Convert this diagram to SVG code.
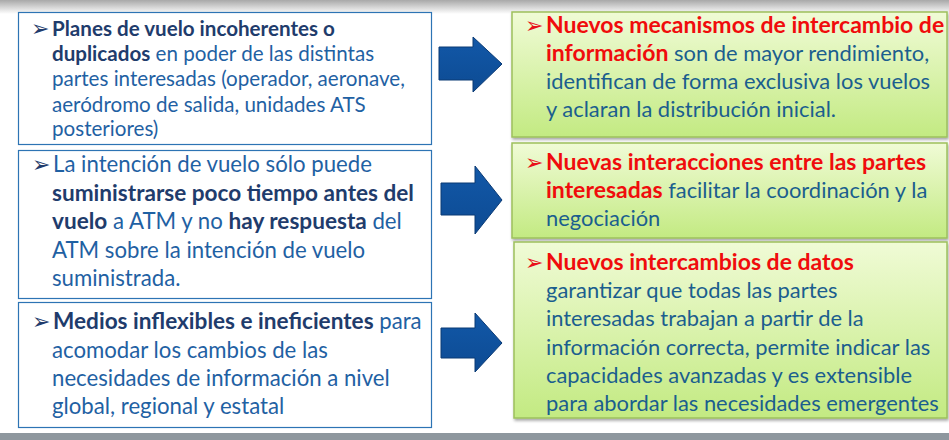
<svg xmlns="http://www.w3.org/2000/svg" width="949" height="440" viewBox="0 0 949 440">
<defs>
<linearGradient id="topband" x1="0" y1="0" x2="0" y2="1">
<stop offset="0" stop-color="#a8a8a8"/>
<stop offset="1" stop-color="#ffffff"/>
</linearGradient>
<linearGradient id="green" x1="0" y1="0" x2="0" y2="1">
<stop offset="0" stop-color="#f0fbd6"/>
<stop offset="1" stop-color="#c3ea82"/>
</linearGradient>
<linearGradient id="arrowfill" x1="0" y1="0" x2="0" y2="1">
<stop offset="0" stop-color="#1258a8"/>
<stop offset="1" stop-color="#0d4b93"/>
</linearGradient>
<filter id="shadow" x="-5%" y="-5%" width="110%" height="115%">
<feDropShadow dx="1" dy="2" stdDeviation="1.5" flood-color="#000" flood-opacity="0.35"/>
</filter>
</defs>
<style>
text { font-family: Lato, "Open Sans", "DejaVu Sans", sans-serif; }
.lbox { fill: #ffffff; stroke: #2d74b4; stroke-width: 1.2; }
.gbox { fill: url(#green); stroke: #9dc05c; stroke-width: 1.5; filter: url(#shadow); }
.arrow { fill: url(#arrowfill); stroke: #0a3a75; stroke-width: 1; }
.lt { font-size: 22.2px; fill: #1f61a3; }
.lt1 { font-size: 20.6px; fill: #1f61a3; }
.nb { font-weight: bold; fill: #1f3c6c; }
.lt .nb { font-size: 22.6px; }
.rt { font-size: 21.9px; fill: #1b5e8e; }
.rb { font-weight: bold; fill: #f00c0c; font-size: 23px; }
.bl { font-family: "DejaVu Sans", sans-serif; fill: #1f3c6c; font-size: 22px; }
.br { font-family: "DejaVu Sans", sans-serif; fill: #e8101a; font-size: 22px; }
</style>
<rect x="0" y="0" width="949" height="14" fill="url(#topband)"/>
<rect x="0" y="433" width="949" height="7" fill="#8e979e"/>

<g id="left1">
<rect class="lbox" x="18.5" y="12.5" width="413" height="132"/>
<text class="lt1"><tspan class="bl" x="31" y="36" font-size="19px">➢</tspan><tspan class="nb" x="52" y="36">Planes de vuelo incoherentes o</tspan>
<tspan class="nb" x="52" y="61">duplicados</tspan><tspan> en poder de las distintas</tspan>
<tspan x="52" y="86">partes interesadas (operador, aeronave,</tspan>
<tspan x="52" y="112">aeródromo de salida, unidades ATS</tspan>
<tspan x="52" y="136">posteriores)</tspan></text>
</g>

<g id="left2">
<rect class="lbox" x="18.5" y="150.5" width="413" height="148"/>
<text class="lt"><tspan class="bl" x="32" y="172">➢</tspan><tspan x="53" y="172">La intención de vuelo sólo puede</tspan>
<tspan class="nb" x="52" y="201">suministrarse poco tiempo antes del</tspan>
<tspan class="nb" x="52" y="229">vuelo</tspan><tspan> a ATM y no </tspan><tspan class="nb">hay respuesta</tspan><tspan> del</tspan>
<tspan x="52" y="258">ATM sobre la intención de vuelo</tspan>
<tspan x="52" y="286">suministrada.</tspan></text>
</g>

<g id="left3">
<rect class="lbox" x="18.5" y="302.5" width="413" height="125"/>
<text class="lt"><tspan class="bl" x="32" y="329">➢</tspan><tspan class="nb" x="53" y="329">Medios inflexibles e ineficientes</tspan><tspan> para</tspan>
<tspan x="52" y="358">acomodar los cambios de las</tspan>
<tspan x="52" y="386">necesidades de información a nivel</tspan>
<tspan x="52" y="414">global, regional y estatal</tspan></text>
</g>

<g id="right1">
<rect class="gbox" x="512" y="12" width="435" height="125"/>
<text class="rt"><tspan class="br" x="525" y="33">➢</tspan><tspan class="rb" x="546" y="33">Nuevos mecanismos de intercambio de</tspan>
<tspan class="rb" x="546" y="61">información</tspan><tspan> son de mayor rendimiento,</tspan>
<tspan x="546" y="89">identifican de forma exclusiva los vuelos</tspan>
<tspan x="546" y="117">y aclaran la distribución inicial.</tspan></text>
</g>

<g id="right2">
<rect class="gbox" x="512" y="143" width="435" height="95"/>
<text class="rt"><tspan class="br" x="525" y="170">➢</tspan><tspan class="rb" x="546" y="170">Nuevas interacciones entre las partes</tspan>
<tspan class="rb" x="546" y="198">interesadas</tspan><tspan> facilitar la coordinación y la</tspan>
<tspan x="546" y="226">negociación</tspan></text>
</g>

<g id="right3">
<rect class="gbox" x="514" y="242" width="433" height="176"/>
<text class="rt"><tspan class="br" x="525" y="270">➢</tspan><tspan class="rb" x="546" y="270">Nuevos intercambios de datos</tspan>
<tspan x="546" y="298">garantizar que todas las partes</tspan>
<tspan x="546" y="326">interesadas trabajan a partir de la</tspan>
<tspan x="546" y="355">información correcta, permite indicar las</tspan>
<tspan x="546" y="383">capacidades avanzadas y es extensible</tspan>
<tspan x="546" y="411">para abordar las necesidades emergentes</tspan></text>
</g>

<g id="connectors">
<polygon class="arrow" points="439,47 473,47 473,37 502,64 473,92 473,80 439,80"/>
<polygon class="arrow" points="441,183 475,183 475,166 502,200 475,234 475,215 441,215"/>
<polygon class="arrow" points="441,328 475,328 475,313 502,343 475,372 475,358 441,358"/>
</g>
</svg>
